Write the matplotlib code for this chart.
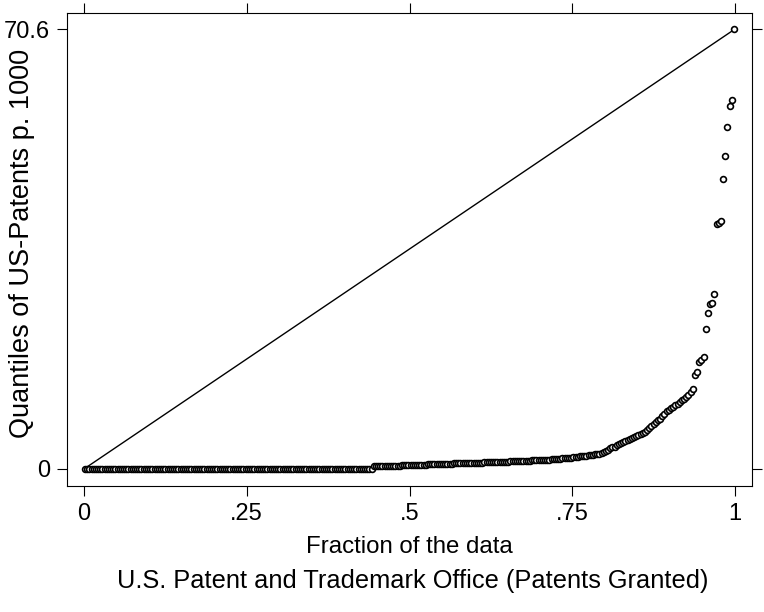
import numpy as np
import matplotlib
matplotlib.use("Agg")
import matplotlib.pyplot as plt

plt.rcParams['font.family'] = ['Liberation Sans', 'DejaVu Sans']

# sorted values of US patents per 1000
n_zero = 133
mid_vals = [0.43, 0.44, 0.45, 0.46, 0.47, 0.48, 0.49, 0.50, 0.51, 0.52,
            0.53, 0.54, 0.55, 0.56, 0.57, 0.59, 0.60, 0.62, 0.63, 0.65,
            0.66, 0.68, 0.69, 0.70, 0.72, 0.73, 0.75, 0.76, 0.78, 0.79,
            0.80, 0.82, 0.83, 0.84, 0.86, 0.87, 0.88, 0.89, 0.90, 0.91,
            0.92, 0.93, 0.94, 0.95, 0.96, 0.98, 0.99, 1.00, 1.02, 1.03,
            1.04, 1.06, 1.07, 1.08, 1.10, 1.11, 1.12, 1.13, 1.14, 1.15,
            1.16, 1.18, 1.19, 1.21, 1.22, 1.24, 1.25, 1.27, 1.29, 1.31,
            1.32, 1.34, 1.35, 1.37, 1.39, 1.40, 1.42, 1.44, 1.46, 1.48,
            1.50, 1.52, 1.55, 1.57, 1.60, 1.63, 1.66, 1.69, 1.72, 1.76,
            1.80, 1.84, 1.88, 1.92, 1.97, 2.02, 2.06, 2.10, 2.15, 2.20,
            2.25, 2.30, 2.35, 2.40, 2.45]
upper_vals = [2.55, 2.7, 2.9, 3.1, 3.3, 3.45, 3.6, 3.8, 4.0,
              4.2, 4.35, 4.5, 4.7, 4.85, 5.0, 5.1, 5.25, 5.4,
              5.6, 5.8, 6.0, 6.3, 6.6, 6.9, 7.2, 7.5, 7.8,
              8.1, 8.5, 8.9, 9.3, 9.5, 9.8, 10.0, 10.3, 10.5,
              10.8, 11.1, 11.3, 11.6, 11.9, 12.3, 12.8]
top_vals = [15.1, 15.6, 17.2, 17.5, 17.9, 22.5, 25.0, 26.5, 26.7, 28.0,
            39.3, 39.5, 39.8, 46.5, 50.3, 54.9, 58.2, 59.2, 70.6]

values = np.concatenate([np.zeros(n_zero), mid_vals, upper_vals, top_vals])
n = len(values)
frac = (np.arange(1, n + 1) - 0.5) / n
vmin, vmax = values.min(), values.max()

fig = plt.figure(figsize=(7.64, 6.12), dpi=100)
ax = fig.add_axes([67 / 764, 1 - 486 / 612, 685 / 764, 473 / 612])

ax.plot([0, 1], [vmin, vmax], color='black', lw=1.0)
ax.plot(frac, values, 'o', ms=4.2, mfc='white', mec='black', mew=1.2, ls='none')

ax.set_xlim(-0.0261, 1.0261)
ax.set_ylim(-2.73, 73.17)
ax.set_xticks([0, 0.25, 0.5, 0.75, 1])
ax.set_xticklabels(['0', '.25', '.5', '.75', '1'])
ax.set_yticks([vmin, vmax])
ax.set_yticklabels(['0', '70.6'])
ax.tick_params(direction='out', length=7, width=0.8, labelsize=17,
               top=True, right=True, pad=5)
for s in ax.spines.values():
    s.set_linewidth(0.8)

ax.set_xlabel('Fraction of the data', fontsize=17.3, labelpad=8)
fig.text(22 / 764, 1 - 243 / 612, 'Quantiles of US-Patents p. 1000',
         rotation=90, ha='center', va='center', fontsize=19.5)
fig.text(413 / 764, 1 - 581 / 612, 'U.S. Patent and Trademark Office (Patents Granted)',
         ha='center', va='center', fontsize=18.3)

fig.savefig('out.png', dpi=100)
